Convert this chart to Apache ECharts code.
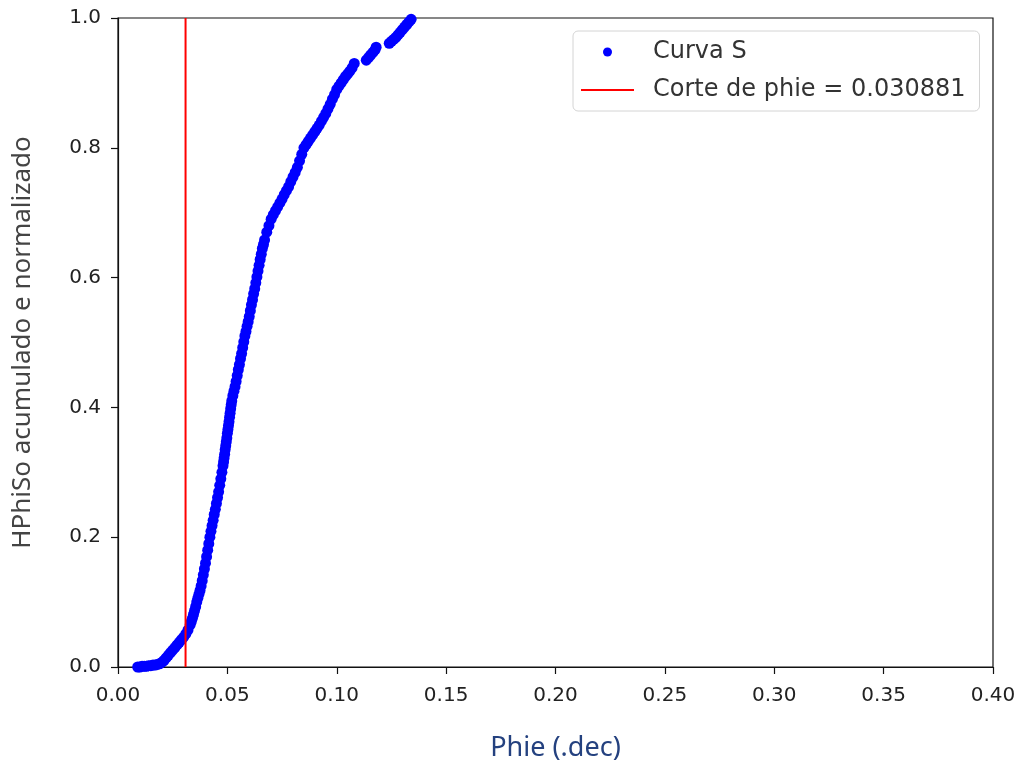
<!DOCTYPE html>
<html>
<head>
<meta charset="utf-8">
<script src="https://cdn.jsdelivr.net/npm/echarts@6/dist/echarts.min.js"></script>
<style>
  html, body { margin: 0; padding: 0; background: #fff; }
  #chart { width: 1020px; height: 767px; }
</style>
</head>
<body>
<div id="chart"></div>
<script>
var chart = echarts.init(document.getElementById('chart'));

// Curva S points (phie, HPhiSo acumulado normalizado)
var phie = [
    0.009, 0.010, 0.011, 0.012, 0.013, 0.014, 0.015, 0.016, 0.017, 0.018, 0.019, 0.020,
    0.021, 0.022, 0.023, 0.024, 0.025, 0.026, 0.027, 0.028, 0.029, 0.030, 0.031, 0.032,
    0.033, 0.0335, 0.034, 0.0345, 0.035, 0.0355, 0.036, 0.0365, 0.037, 0.0375, 0.038, 0.0385,
    0.039, 0.0395, 0.040, 0.0405, 0.041, 0.0415, 0.042, 0.0425, 0.043, 0.0435, 0.044, 0.0445,
    0.045, 0.0455, 0.046, 0.0465, 0.047, 0.0475, 0.048, 0.04825, 0.0485, 0.04875, 0.049, 0.04925,
    0.0495, 0.04975, 0.050, 0.05025, 0.0505, 0.05075, 0.051, 0.05125, 0.0515, 0.05175, 0.052, 0.0525,
    0.053, 0.0535, 0.054, 0.0545, 0.055, 0.0555, 0.056, 0.0565, 0.057, 0.0575, 0.058, 0.0585,
    0.059, 0.0595, 0.060, 0.0605, 0.061, 0.0615, 0.062, 0.0625, 0.063, 0.0635, 0.064, 0.0645,
    0.065, 0.0655, 0.066, 0.0665, 0.067, 0.068, 0.069, 0.070, 0.071, 0.072, 0.073, 0.074,
    0.075, 0.076, 0.077, 0.078, 0.079, 0.080, 0.081, 0.082, 0.083, 0.084, 0.085, 0.086,
    0.087, 0.088, 0.089, 0.090, 0.091, 0.092, 0.093, 0.094, 0.095, 0.096, 0.097, 0.098,
    0.099, 0.100, 0.101, 0.102, 0.103, 0.104, 0.105, 0.106, 0.107, 0.108,
    0.1135, 0.1145, 0.1155, 0.1165, 0.1175, 0.118,
    0.124, 0.125, 0.126, 0.127, 0.128, 0.129, 0.130, 0.131, 0.132, 0.133, 0.134
];
var hphiso = [
    0.000, 0.000, 0.001, 0.001, 0.001, 0.002, 0.002, 0.003, 0.003, 0.004, 0.005, 0.007,
    0.010, 0.014, 0.018, 0.022, 0.026, 0.030, 0.034, 0.038, 0.042, 0.046, 0.051, 0.057,
    0.065, 0.070, 0.075, 0.081, 0.087, 0.093, 0.100, 0.106, 0.112, 0.118, 0.125, 0.133,
    0.142, 0.151, 0.160, 0.170, 0.180, 0.190, 0.200, 0.209, 0.218, 0.226, 0.235, 0.243,
    0.252, 0.261, 0.270, 0.280, 0.290, 0.300, 0.310, 0.316, 0.322, 0.328, 0.335, 0.341,
    0.347, 0.353, 0.360, 0.366, 0.372, 0.378, 0.385, 0.391, 0.398, 0.404, 0.410, 0.418,
    0.425, 0.432, 0.440, 0.449, 0.458, 0.466, 0.475, 0.483, 0.492, 0.501, 0.510, 0.517,
    0.525, 0.532, 0.540, 0.549, 0.558, 0.566, 0.575, 0.583, 0.592, 0.601, 0.610, 0.619,
    0.628, 0.636, 0.645, 0.651, 0.658, 0.670, 0.680, 0.690, 0.697, 0.703, 0.709, 0.715,
    0.721, 0.728, 0.734, 0.740, 0.748, 0.755, 0.762, 0.770, 0.780, 0.790, 0.800, 0.805,
    0.810, 0.815, 0.820, 0.825, 0.830, 0.835, 0.841, 0.847, 0.853, 0.860, 0.867, 0.875,
    0.882, 0.890, 0.895, 0.900, 0.905, 0.910, 0.914, 0.918, 0.923, 0.930,
    0.935, 0.939, 0.943, 0.947, 0.951, 0.955,
    0.961, 0.964, 0.967, 0.970, 0.974, 0.978, 0.982, 0.986, 0.990, 0.994, 0.998
];

var corte = 0.030881;
var corteY = [0, 1];

var curva = phie.map(function (x, i) { return [x, hphiso[i]]; });
var corteLine = corteY.map(function (y) { return [corte, y]; });
var corteName = 'Corte de phie = ' + corte;

var option = {
    animation: false,
    grid: {
        left: 118,
        right: 27,
        top: 18,
        bottom: 100,
        show: true,
        borderColor: '#111',
        borderWidth: 1.2
    },
    legend: {
        orient: 'vertical',
        left: 573,
        top: 31,
        padding: [9, 14, 9, 7],
        itemWidth: 53,
        itemHeight: 9,
        itemGap: 14,
        backgroundColor: '#fff',
        borderColor: '#d4d4d4',
        borderWidth: 1,
        borderRadius: 5,
        textStyle: {
            fontFamily: 'DejaVu Sans',
            fontSize: 24,
            color: '#333',
            padding: [0, 0, 0, 14]
        },
        data: [
            'Curva S',
            { name: corteName, itemStyle: { opacity: 0 } }
        ]
    },
    xAxis: {
        type: 'value',
        min: 0,
        max: 0.4,
        interval: 0.05,
        name: 'Phie (.dec)',
        nameLocation: 'middle',
        nameGap: 68,
        nameTextStyle: {
            fontFamily: 'Noto Sans',
            fontSize: 27,
            color: '#24417f'
        },
        axisLine: { lineStyle: { color: '#111', width: 1.2 } },
        axisTick: { show: true, length: 7, lineStyle: { color: '#111', width: 1.2 } },
        axisLabel: {
            fontFamily: 'DejaVu Sans',
            fontSize: 20,
            color: '#222',
            margin: 19,
            formatter: function (v) { return v.toFixed(2); }
        },
        splitLine: { show: false }
    },
    yAxis: {
        type: 'value',
        min: 0,
        max: 1,
        interval: 0.2,
        name: 'HPhiSo acumulado e normalizado',
        nameLocation: 'middle',
        nameGap: 82,
        nameTextStyle: {
            fontFamily: 'Noto Sans',
            fontSize: 26,
            color: '#444'
        },
        axisLine: { lineStyle: { color: '#111', width: 1.2 } },
        axisTick: { show: true, length: 7, lineStyle: { color: '#111', width: 1.2 } },
        axisLabel: {
            fontFamily: 'DejaVu Sans',
            fontSize: 20,
            color: '#222',
            margin: 17,
            formatter: function (v) { return v.toFixed(1); }
        },
        splitLine: { show: false }
    },
    series: [
        {
            name: 'Curva S',
            type: 'scatter',
            data: curva,
            symbol: 'circle',
            symbolSize: 11,
            itemStyle: { color: '#0000ff', opacity: 1 }
        },
        {
            name: corteName,
            type: 'line',
            data: corteLine,
            symbol: 'none',
            lineStyle: { color: '#ff0000', width: 2 },
            itemStyle: { color: '#ff0000' }
        }
    ]
};

chart.setOption(option);
</script>
</body>
</html>
